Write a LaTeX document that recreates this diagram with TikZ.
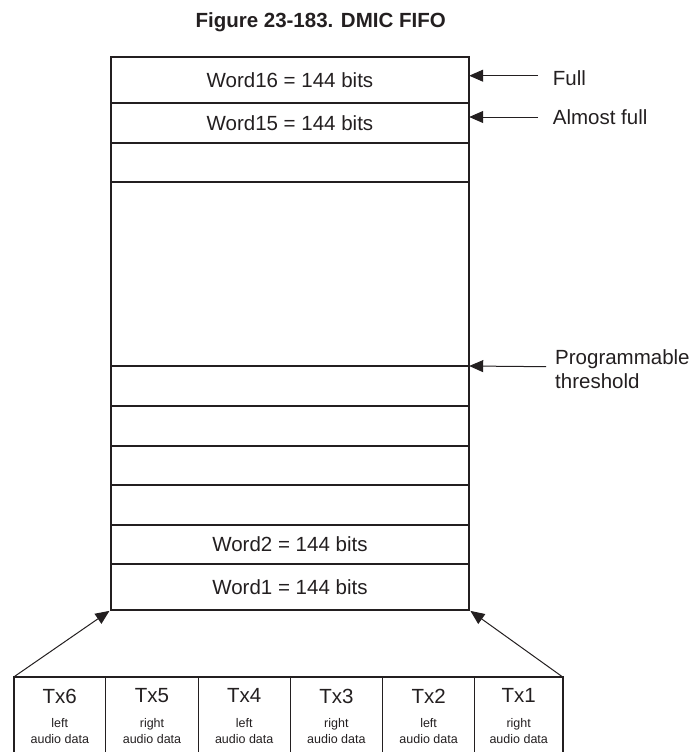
\documentclass[tikz,border=0pt]{standalone}
\usepackage{fontspec}
\setmainfont{Liberation Sans}
\usetikzlibrary{positioning,arrows.meta}
\definecolor{ink}{HTML}{231F20}

\begin{document}
\begin{tikzpicture}[x=1pt, y=-1pt,
	every node/.style={text=ink, font=\fontsize{20.5}{24}\selectfont},
	word/.style={draw=ink, line width=1.2pt, outer sep=0pt, inner sep=0pt, minimum width=358.5pt, minimum height=#1},
	word/.default=40pt,
	txcell/.style={draw=ink, line width=0.9pt, outer sep=0pt, inner sep=0pt, minimum width=92.2pt, minimum height=78pt, align=center, font=\fontsize{12.5}{16}\selectfont},
	flag/.style={-{Triangle[length=14pt,width=12pt]}, ink, line width=1pt}]
	\path[use as bounding box, clip] (0,0) rectangle (694,752);

	% Define nodes
	\node (title) [anchor=base west, font=\fontsize{20.5}{24}\selectfont\bfseries] at (192,27.3) {Figure 23-183. DMIC FIFO};

	\node (w16) [word=46pt] at (289.95,80) {Word16 = 144 bits};
	\node (w15) [word, below=0pt of w16] {Word15 = 144 bits};
	\node (w14) [word=39pt, below=0pt of w15] {};
	\node (wmid) [word=184pt, below=0pt of w14] {};
	\node (w6) [word, below=0pt of wmid] {};
	\node (w5) [word, below=0pt of w6] {};
	\node (w4) [word=39pt, below=0pt of w5] {};
	\node (w3) [word, below=0pt of w4] {};
	\node (w2) [word=39pt, below=0pt of w3] {Word2 = 144 bits};
	\node (w1) [word=46pt, below=0pt of w2] {Word1 = 144 bits};

	\node (full) [anchor=base west, inner sep=0pt] at (552.7,85) {Full};
	\node (almost) [anchor=base west, inner sep=0pt] at (552.7,124) {Almost full};
	\node (prog) [anchor=west, inner sep=0pt, align=left] at (555,369) {Programmable\\threshold};

	\node (tx6) [txcell, anchor=north west] at (13.7,677) {{\fontsize{20.5}{16}\selectfont Tx6}\\[8pt]left\\audio data};
	\node (tx5) [txcell, right=0pt of tx6] {{\fontsize{20.5}{16}\selectfont Tx5}\\[8pt]right\\audio data};
	\node (tx4) [txcell, right=0pt of tx5] {{\fontsize{20.5}{16}\selectfont Tx4}\\[8pt]left\\audio data};
	\node (tx3) [txcell, right=0pt of tx4] {{\fontsize{20.5}{16}\selectfont Tx3}\\[8pt]right\\audio data};
	\node (tx2) [txcell, right=0pt of tx3] {{\fontsize{20.5}{16}\selectfont Tx2}\\[8pt]left\\audio data};
	\node (tx1) [txcell, minimum width=88pt, right=0pt of tx2] {{\fontsize{20.5}{16}\selectfont Tx1}\\[8pt]right\\audio data};

	\coordinate (fulltail) at (538,75.7);
	\coordinate (almosttail) at (538,117);
	\coordinate (progtail) at (546,366.7);

	% Outlines
	\draw[ink, line width=2.3pt] (w16.north west) rectangle (w1.south east);
	\draw[ink, line width=2.3pt] (tx6.south west) -- (tx6.north west) -- (tx1.north east) -- (tx1.south east);

	% Draw edges
	\path[flag]
	(fulltail) edge (fulltail -| w16.east)
	(almosttail) edge (almosttail -| w15.east)
	(progtail) edge (wmid.south east)
	(tx6.north west) edge[shorten >=1.5pt] (w1.south west)
	(tx1.north east) edge[shorten >=1.5pt] (w1.south east);
\end{tikzpicture}
\end{document}
